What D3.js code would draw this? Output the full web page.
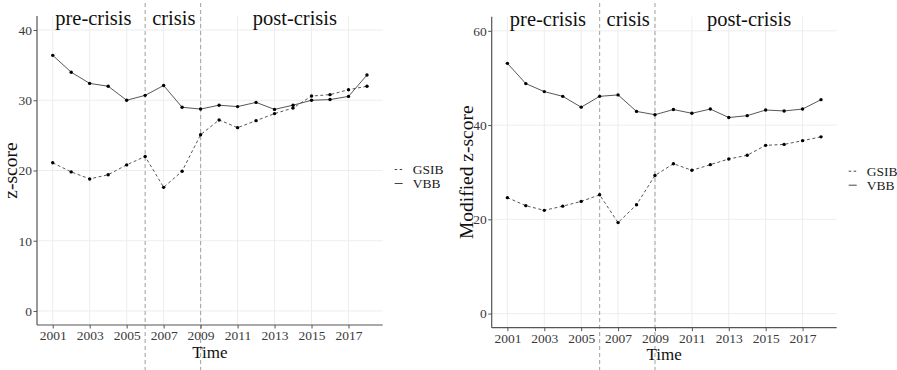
<!DOCTYPE html>
<html><head><meta charset="utf-8">
<script src="https://cdn.jsdelivr.net/npm/d3@7/dist/d3.min.js"></script>
<style>
html,body{margin:0;padding:0;background:#fff;}
text{font-family:"Liberation Serif","Times New Roman",serif;}
</style></head>
<body><svg id="chart" width="897" height="370"></svg>
<script>
const years = [2001,2002,2003,2004,2005,2006,2007,2008,2009,2010,2011,2012,2013,2014,2015,2016,2017,2018];
const zGSIB  = [21.1,19.8,18.8,19.4,20.8,22.0,17.6,19.9,25.1,27.2,26.1,27.1,28.1,28.9,30.6,30.8,31.5,32.0];
const zVBB   = [36.4,34.0,32.4,32.0,30.0,30.7,32.1,29.0,28.75,29.3,29.1,29.7,28.7,29.3,30.0,30.1,30.55,33.6];
const mzGSIB = [24.6,22.9,21.9,22.8,23.8,25.2,19.3,23.1,29.3,31.8,30.4,31.6,32.8,33.6,35.7,35.9,36.7,37.5];
const mzVBB  = [53.1,48.8,47.1,46.1,43.8,46.1,46.4,42.9,42.2,43.3,42.5,43.4,41.6,42.0,43.2,43.0,43.4,45.4];
const xTicks = [2001,2003,2005,2007,2009,2011,2013,2015,2017];
const zTicks = [0,10,20,30,40];
const mzTicks = [0,20,40,60];
const periods = ["pre-crisis","crisis","post-crisis"];
const periodX = [2003.2,2007.55,2014.1];
const crisisBounds = [2006,2009];
const seriesNames = ["GSIB","VBB"];

const svg = d3.select("#chart");
const panels = [
  {left:37, right:382.7, top:16, bottom:325, yDomain:[-2,42], yTicks:zTicks, gsib:zGSIB, vbb:zVBB,
   yTitle:"z-score", yTitleX:16.7},
  {left:491.7, right:836.7, top:16.7, bottom:327.7, yDomain:[-3,63], yTicks:mzTicks, gsib:mzGSIB, vbb:mzVBB,
   yTitle:"Modified z-score", yTitleX:473}
];

panels.forEach(p => {
  const g = svg.append("g");
  const x = d3.scaleLinear().domain([2000.15, 2018.85]).range([p.left, p.right]);
  const y = d3.scaleLinear().domain(p.yDomain).range([p.bottom, p.top]);

  // grid
  g.append("g").selectAll("line").data(p.yTicks).join("line")
    .attr("x1", p.left).attr("x2", p.right).attr("y1", d => y(d)).attr("y2", d => y(d))
    .attr("stroke", "#ebebeb").attr("stroke-width", 0.9);
  g.append("g").selectAll("line").data(xTicks).join("line")
    .attr("x1", d => x(d)).attr("x2", d => x(d)).attr("y1", p.top).attr("y2", p.bottom)
    .attr("stroke", "#ebebeb").attr("stroke-width", 0.9);

  // crisis bounds
  g.append("g").selectAll("line").data(crisisBounds).join("line")
    .attr("x1", d => x(d)).attr("x2", d => x(d)).attr("y1", 3).attr("y2", 370)
    .attr("stroke", "#a8a8a8").attr("stroke-width", 1.1).attr("stroke-dasharray", "4,3");

  // axes
  const ax = g.append("g").attr("transform", `translate(0,${p.bottom})`)
    .call(d3.axisBottom(x).tickValues(xTicks).tickFormat(d3.format("d")).tickSize(3.5).tickPadding(2));
  const ay = g.append("g").attr("transform", `translate(${p.left},0)`)
    .call(d3.axisLeft(y).tickValues(p.yTicks).tickSize(3.5).tickPadding(1.5));
  [ax, ay].forEach(a => {
    a.select(".domain").attr("stroke", "#555").attr("stroke-width", 1.2);
    a.selectAll(".tick line").attr("stroke", "#555").attr("stroke-width", 1);
    a.selectAll(".tick text").attr("fill", "#3a3a3a").attr("font-size", 13.5);
  });
  ax.select(".domain").attr("d", `M${p.left},0H${p.right}`);
  ay.select(".domain").attr("d", `M0,${p.top}V${p.bottom}`);

  // axis titles
  g.append("text").attr("x", (p.left + p.right) / 2).attr("y", p.bottom + 32.5)
    .attr("text-anchor", "middle").attr("font-size", 17).attr("fill", "#111").text("Time");
  g.append("text").attr("transform", `translate(${p.yTitleX},${(p.top + p.bottom) / 2}) rotate(-90)`)
    .attr("text-anchor", "middle").attr("font-size", 19.5).attr("fill", "#111").text(p.yTitle);

  // period labels
  g.append("g").selectAll("text").data(periods).join("text")
    .attr("x", (d, i) => x(periodX[i])).attr("y", p.top + 9)
    .attr("text-anchor", "middle").attr("font-size", 20.5).attr("fill", "#111").text(d => d);

  // lines
  const line = d3.line().x((d, i) => x(years[i])).y(d => y(d));
  g.append("path").datum(p.gsib).attr("d", line).attr("fill", "none")
    .attr("stroke", "#444").attr("stroke-width", 0.9).attr("stroke-dasharray", "3,2.5");
  g.append("path").datum(p.vbb).attr("d", line).attr("fill", "none")
    .attr("stroke", "#444").attr("stroke-width", 0.9);
  [p.gsib, p.vbb].forEach(s => {
    g.append("g").selectAll("circle").data(s).join("circle")
      .attr("cx", (d, i) => x(years[i])).attr("cy", d => y(d)).attr("r", 1.7).attr("fill", "#000");
  });

  // legend
  const lg = g.append("g").attr("transform", `translate(${p.right + 12},${(p.top + p.bottom) / 2})`);
  seriesNames.forEach((n, i) => {
    const yy = -1 + i * 14;
    lg.append("line").attr("x1", 0).attr("x2", 8).attr("y1", yy).attr("y2", yy)
      .attr("stroke", "#444").attr("stroke-width", 1)
      .attr("stroke-dasharray", i === 0 ? "2.5,2.5" : null);
    lg.append("text").attr("x", 18).attr("y", yy + 4.5).attr("font-size", 13.5)
      .attr("fill", "#222").text(n);
  });
});
</script></body></html>
